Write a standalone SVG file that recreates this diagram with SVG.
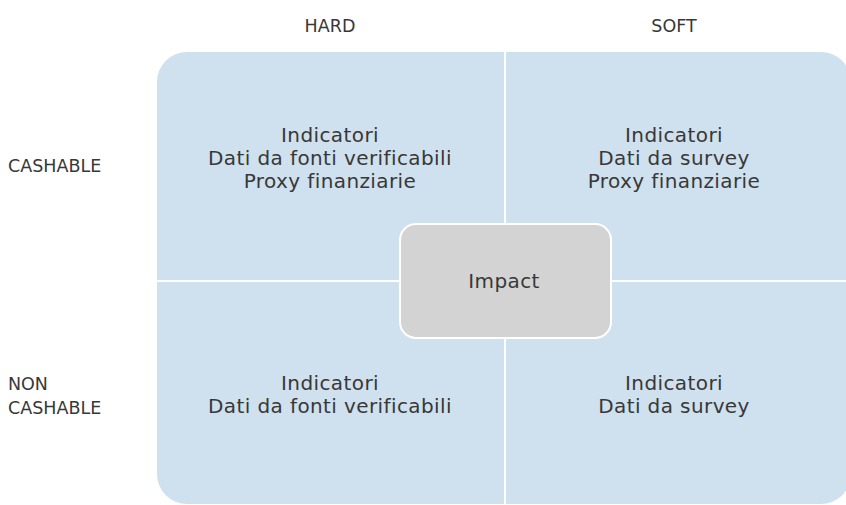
<svg xmlns="http://www.w3.org/2000/svg" width="846" height="505" viewBox="0 0 846 505">
<style>
.q{fill:#cfe0ee}
.t{font-family:"DejaVu Sans","Noto Sans",sans-serif;fill:#383838;font-size:20px;letter-spacing:0.4px;text-anchor:middle}
.l{font-family:"DejaVu Sans","Noto Sans",sans-serif;fill:#383838;font-size:17.5px}
</style>
<rect width="846" height="505" fill="#fff"/>
<g id="grid">
<rect class="q" x="157" y="52" width="694" height="452" rx="30"/>
</g>
<g id="connectors">
<line x1="505" y1="52" x2="505" y2="504" stroke="#fff" stroke-width="2"/>
<line x1="157" y1="281" x2="851" y2="281" stroke="#fff" stroke-width="2"/>
</g>
<g id="labels">
<text class="l" x="330" y="32" text-anchor="middle">HARD</text>
<text class="l" x="674" y="32" text-anchor="middle">SOFT</text>
<text class="l" x="8" y="172">CASHABLE</text>
<text class="l" x="8" y="390">NON</text>
<text class="l" x="8" y="414">CASHABLE</text>
</g>
<g id="q-hard-cash">
<text class="t" x="330" y="142">Indicatori</text>
<text class="t" x="330" y="165">Dati da fonti verificabili</text>
<text class="t" x="330" y="188">Proxy finanziarie</text>
</g>
<g id="q-soft-cash">
<text class="t" x="674" y="142">Indicatori</text>
<text class="t" x="674" y="165">Dati da survey</text>
<text class="t" x="674" y="188">Proxy finanziarie</text>
</g>
<g id="q-hard-non">
<text class="t" x="330" y="390">Indicatori</text>
<text class="t" x="330" y="413">Dati da fonti verificabili</text>
</g>
<g id="q-soft-non">
<text class="t" x="674" y="390">Indicatori</text>
<text class="t" x="674" y="413">Dati da survey</text>
</g>
<g id="impact">
<rect x="400" y="224" width="211" height="114" rx="16" fill="#d3d3d4" stroke="#fff" stroke-width="2"/>
<text class="t" x="504" y="288">Impact</text>
</g>
</svg>
